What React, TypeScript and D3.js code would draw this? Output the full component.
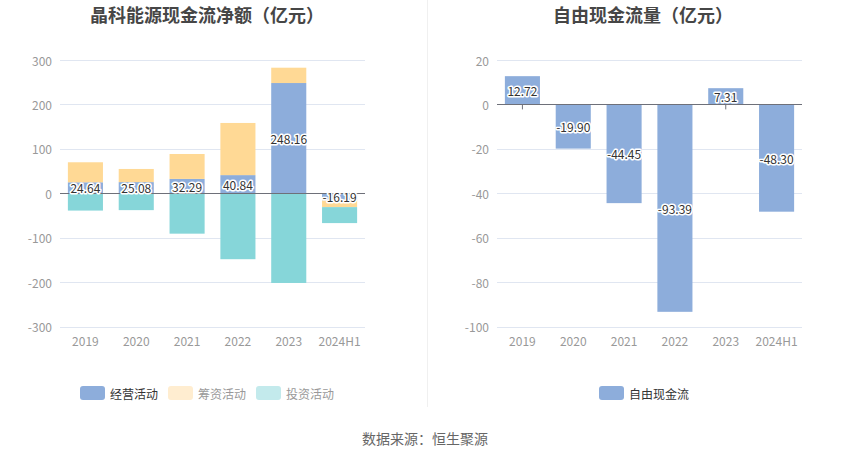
import React from "react";
import * as d3 from "d3";

const categories = ["2019", "2020", "2021", "2022", "2023", "2024H1"];
const operating = [24.64, 25.08, 32.29, 40.84, 248.16, -16.19];
const financing = [45.1, 29.6, 56.1, 117.4, 34.5, -15.0];
const investing = [-39.0, -38.0, -91.0, -148.5, -202.0, -36.0];
const freeCashFlow = [12.72, -19.9, -44.45, -93.39, 7.31, -48.3];

const leftTicks = [-300, -200, -100, 0, 100, 200, 300];
const rightTicks = [-100, -80, -60, -40, -20, 0, 20];

const titleLeft = "晶科能源现金流净额（亿元）";
const titleRight = "自由现金流量（亿元）";
const legendLeft = ["经营活动", "筹资活动", "投资活动"];
const legendRight = ["自由现金流"];
const source = "数据来源：恒生聚源";

const BLUE = "#8DADDB";
const ORANGE = "#FFD995";
const TEAL = "#86D6D9";
const FONT = "'Noto Sans CJK SC', 'Noto Sans', sans-serif";

function fmt(v: number) {
  return v.toFixed(2);
}

function Label({ x, y, text }: { x: number; y: number; text: string }) {
  return (
    <text
      x={x}
      y={y}
      textAnchor="middle"
      dominantBaseline="central"
      fontSize={12}
      fill="#333"
      stroke="#fff"
      strokeWidth={3}
      strokeLinejoin="round"
      style={{ paintOrder: "stroke" }}
    >
      {text}
    </text>
  );
}

export default function App() {
  const W = 850;
  const H = 459;

  // Left chart
  const xL = d3
    .scaleBand<string>()
    .domain(categories)
    .range([60, 365])
    .paddingInner(0.31)
    .paddingOuter(0.155);
  const yL = d3.scaleLinear().domain([-300, 300]).range([326.5, 60]);

  const rows = categories.map((c, i) => ({
    cat: c,
    operating: operating[i],
    financing: financing[i],
    investing: investing[i],
  }));
  const keys = ["operating", "financing", "investing"];
  const colors: Record<string, string> = {
    operating: BLUE,
    financing: ORANGE,
    investing: TEAL,
  };
  const stacked = d3
    .stack<any>()
    .keys(keys)
    .offset(d3.stackOffsetDiverging)(rows);

  // Right chart
  const xR = d3
    .scaleBand<string>()
    .domain(categories)
    .range([497, 802])
    .paddingInner(0.31)
    .paddingOuter(0.155);
  const yR = d3.scaleLinear().domain([-100, 20]).range([326.5, 60]);

  const opLayer = stacked[0];

  return (
    <svg width={W} height={H} style={{ display: "block", position: "absolute", left: 0, top: 0 }} fontFamily={FONT}>
      <rect width={W} height={H} fill="#fff" />
      {/* titles */}
      <text x={207} y={22} textAnchor="middle" fontSize={18} fontWeight="bold" fill="#464646">
        {titleLeft}
      </text>
      <text x={643} y={22} textAnchor="middle" fontSize={18} fontWeight="bold" fill="#464646">
        {titleRight}
      </text>
      {/* divider */}
      <line x1={427.5} x2={427.5} y1={0} y2={407} stroke="#f0f0f0" strokeWidth={1} />

      {/* left grid */}
      {leftTicks.map((t) => (
        <g key={"lg" + t}>
          {t !== 0 && (
            <line x1={60} x2={365} y1={Math.round(yL(t)) + 0.5} y2={Math.round(yL(t)) + 0.5} stroke="#E0E6F1" />
          )}
          <text x={52} y={yL(t)} textAnchor="end" dominantBaseline="central" fontSize={12} fill="#999">
            {t}
          </text>
        </g>
      ))}
      {categories.map((c) => (
        <line
          key={"ltk" + c}
          x1={xL(c)! + xL.bandwidth() / 2}
          x2={xL(c)! + xL.bandwidth() / 2}
          y1={yL(0)}
          y2={yL(0) + 5}
          stroke="#6E7079"
        />
      ))}
      {stacked.map((layer) =>
        layer.map((d, i) => (
          <rect
            key={layer.key + i}
            x={xL(categories[i])}
            width={xL.bandwidth()}
            y={yL(Math.max(d[0], d[1]))}
            height={Math.abs(yL(d[0]) - yL(d[1]))}
            fill={colors[layer.key]}
          />
        ))
      )}
      <line x1={60} x2={365} y1={Math.round(yL(0)) + 0.5} y2={Math.round(yL(0)) + 0.5} stroke="#6E7079" />
      {opLayer.map((d, i) => (
        <Label
          key={"ol" + i}
          x={xL(categories[i])! + xL.bandwidth() / 2}
          y={(yL(d[0]) + yL(d[1])) / 2}
          text={fmt(operating[i])}
        />
      ))}
      {categories.map((c) => (
        <text key={"lx" + c} x={xL(c)! + xL.bandwidth() / 2} y={340} textAnchor="middle" dominantBaseline="central" fontSize={12} fill="#999">
          {c}
        </text>
      ))}

      {/* right grid */}
      {rightTicks.map((t) => (
        <g key={"rg" + t}>
          {t !== 0 && (
            <line x1={497} x2={802} y1={Math.round(yR(t)) + 0.5} y2={Math.round(yR(t)) + 0.5} stroke="#E0E6F1" />
          )}
          <text x={489} y={yR(t)} textAnchor="end" dominantBaseline="central" fontSize={12} fill="#999">
            {t}
          </text>
        </g>
      ))}
      {categories.map((c) => (
        <line
          key={"rtk" + c}
          x1={xR(c)! + xR.bandwidth() / 2}
          x2={xR(c)! + xR.bandwidth() / 2}
          y1={yR(0)}
          y2={yR(0) + 5}
          stroke="#6E7079"
        />
      ))}
      {freeCashFlow.map((v, i) => (
        <rect
          key={"fb" + i}
          x={xR(categories[i])}
          width={xR.bandwidth()}
          y={yR(Math.max(0, v))}
          height={Math.abs(yR(v) - yR(0))}
          fill={BLUE}
        />
      ))}
      <line x1={497} x2={802} y1={Math.round(yR(0)) + 0.5} y2={Math.round(yR(0)) + 0.5} stroke="#6E7079" />
      {freeCashFlow.map((v, i) => (
        <Label key={"fl" + i} x={xR(categories[i])! + xR.bandwidth() / 2} y={(yR(0) + yR(v)) / 2} text={fmt(v)} />
      ))}
      {categories.map((c) => (
        <text key={"rx" + c} x={xR(c)! + xR.bandwidth() / 2} y={340} textAnchor="middle" dominantBaseline="central" fontSize={12} fill="#999">
          {c}
        </text>
      ))}

      {/* legends */}
      {legendLeft.map((name, i) => {
        const x0 = 80 + i * 88;
        const swatch = [BLUE, "#FFEDD0", "#C3EAEC"][i];
        const tc = i === 0 ? "#333" : "#999";
        return (
          <g key={"lgd" + name}>
            <rect x={x0} y={386} width={25} height={14} rx={3} fill={swatch} />
            <text x={x0 + 30} y={393} dominantBaseline="central" fontSize={12} fill={tc}>
              {name}
            </text>
          </g>
        );
      })}
      {legendRight.map((name) => (
        <g key={"lgr" + name}>
          <rect x={599} y={386} width={25} height={14} rx={3} fill={BLUE} />
          <text x={629} y={393} dominantBaseline="central" fontSize={12} fill="#333">
            {name}
          </text>
        </g>
      ))}

      <text x={425} y={438} textAnchor="middle" dominantBaseline="central" fontSize={14} fill="#666">
        {source}
      </text>
    </svg>
  );
}
